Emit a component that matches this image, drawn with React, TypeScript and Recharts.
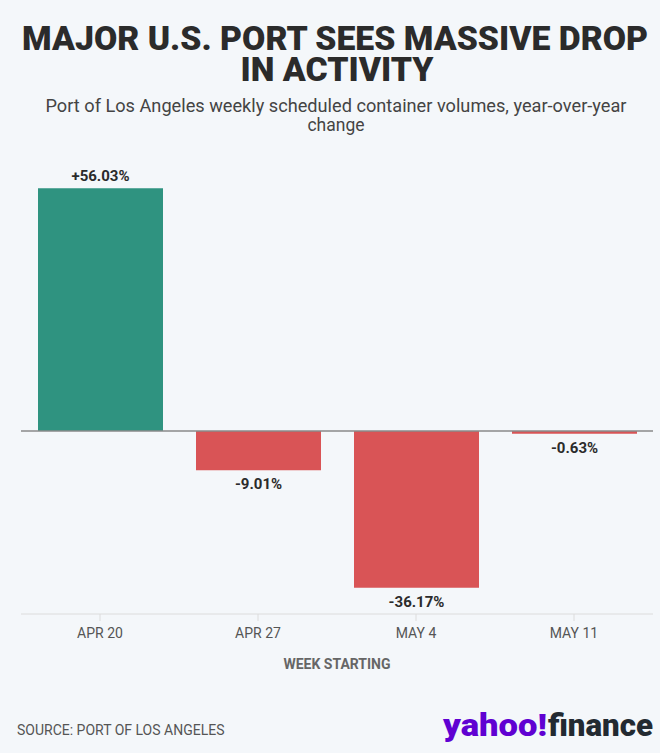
import React from "react";
import { BarChart, Bar, XAxis, YAxis, Cell, LabelList, ReferenceLine } from "recharts";

const weeks = ["APR 20", "APR 27", "MAY 4", "MAY 11"];
const changes = [56.03, -9.01, -36.17, -0.63];
const labels = ["+56.03%", "-9.01%", "-36.17%", "-0.63%"];
const titleLines = ["MAJOR U.S. PORT SEES MASSIVE DROP", "IN ACTIVITY"];
const subtitleLines = ["Port of Los Angeles weekly scheduled container volumes, year-over-year", "change"];
const xAxisTitle = "WEEK STARTING";
const source = "SOURCE: PORT OF LOS ANGELES";

const data = weeks.map((w, i) => ({ week: w, change: changes[i], label: labels[i] }));

const BG = "#f4f7fa";
const GREEN = "#2f9380";
const RED = "#d95456";

const renderLabel = (props: any) => {
  const { x, y, width, height, index } = props;
  const v = changes[index];
  const top = Math.min(y, y + height);
  const bottom = Math.max(y, y + height);
  const cx = x + width / 2;
  const ty = v >= 0 ? top - 7 : bottom + 19;
  return (
    <text x={cx} y={ty} textAnchor="middle" fill="#2b2b2b" fontSize={15} fontWeight={700} fontFamily="Roboto, sans-serif">
      {labels[index]}
    </text>
  );
};

export default function App() {
  return (
    <div style={{ position: "absolute", left: 0, top: 0, width: 660, height: 753, background: BG, overflow: "hidden" }}>
      <svg width={660} height={753} style={{ position: "absolute", left: 0, top: 0 }}>
        <text x={335} y={50} textAnchor="middle" fill="#2b2b2b" fontSize={33} fontWeight={900} fontFamily="Roboto, sans-serif" textLength={626} lengthAdjust="spacingAndGlyphs">
          {titleLines[0]}
        </text>
        <text x={337} y={81} textAnchor="middle" fill="#2b2b2b" fontSize={33} fontWeight={900} fontFamily="Roboto, sans-serif" textLength={193} lengthAdjust="spacingAndGlyphs">
          {titleLines[1]}
        </text>
        <text x={336} y={112} textAnchor="middle" fill="#444" fontSize={17.5} fontFamily="Roboto, sans-serif" textLength={581} lengthAdjust="spacingAndGlyphs">
          {subtitleLines[0]}
        </text>
        <text x={336} y={131} textAnchor="middle" fill="#444" fontSize={17.5} fontFamily="Roboto, sans-serif">
          {subtitleLines[1]}
        </text>
        <text x={337} y={669} textAnchor="middle" fill="#666" fontSize={14} fontWeight={700} fontFamily="Roboto, sans-serif">
          {xAxisTitle}
        </text>
        <text x={17} y={735} fill="#555" fontSize={14} fontFamily="Roboto, sans-serif">
          {source}
        </text>
        <text x={443} y={736} fill="#6001d2" fontSize={32} fontWeight={900} fontFamily="Roboto, sans-serif" textLength={104} lengthAdjust="spacingAndGlyphs">
          yahoo!
        </text>
        <text x={548} y={736} fill="#232a31" fontSize={32} fontWeight={900} fontFamily="Roboto, sans-serif" textLength={105} lengthAdjust="spacingAndGlyphs">
          finance
        </text>
      </svg>
      <div style={{ position: "absolute", left: 0, top: 0 }}>
        <BarChart width={660} height={753} data={data} margin={{ top: 171, right: 7, left: 21, bottom: 109 }} barCategoryGap={0}>
          <YAxis hide domain={[-42.2, 60]} />
          <XAxis
            dataKey="week"
            height={30}
            axisLine={{ stroke: "#dcdcdc" }}
            tickLine={{ stroke: "#dcdcdc" }}
            tickSize={7}
            tickMargin={7}
            tick={{ fill: "#555", fontSize: 14, fontFamily: "Roboto, sans-serif" }}
          />
          <Bar dataKey="change" barSize={125} isAnimationActive={false}>
            {data.map((d, i) => (
              <Cell key={i} fill={d.change >= 0 ? GREEN : RED} />
            ))}
            <LabelList dataKey="label" content={renderLabel} />
          </Bar>
          <ReferenceLine y={0} stroke="#8a8a8a" strokeWidth={1.5} />
        </BarChart>
      </div>
    </div>
  );
}
